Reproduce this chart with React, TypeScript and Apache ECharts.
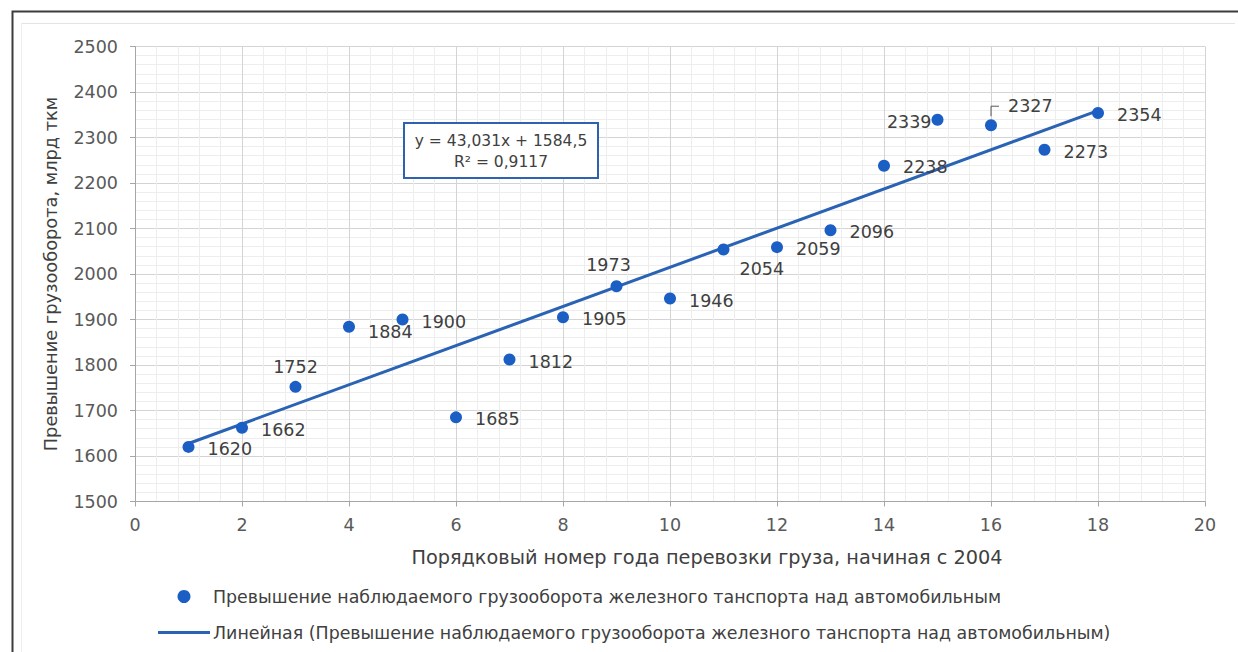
import React, { useEffect, useRef } from "react";
import * as echarts from "echarts";

const yearIndex = [1, 2, 3, 4, 5, 6, 7, 8, 9, 10, 11, 12, 13, 14, 15, 16, 17, 18];
const excessValues = [1620, 1662, 1752, 1884, 1900, 1685, 1812, 1905, 1973, 1946, 2054, 2059, 2096, 2238, 2339, 2327, 2273, 2354];
const trendX = [1, 18];
const trendY = [1627.5, 2359.1];
const scatterName = "Превышение наблюдаемого грузооборота железного танспорта над автомобильным";
const trendName = "Линейная (Превышение наблюдаемого грузооборота железного танспорта над автомобильным)";
const xTitle = "Порядковый номер года перевозки груза, начиная с 2004";
const yTitle = "Превышение грузооборота, млрд ткм";
const equationLines = ["y = 43,031x + 1584,5", "R² = 0,9117"];

const FONT = "'DejaVu Sans', sans-serif";
const TEXT = "#404040";
const TICK = "#595959";
const DOT = "#1b5ec4";
const LINE = "#2a63b4";

// label placement per point (style only)
const labelPlacement: Record<number, any> = {
  2: { position: "top", distance: 5, offset: [0, 0] },
  3: { offset: [0, 5] },
  8: { position: "top", distance: 6, offset: [-8, 0] },
  10: { offset: [-3, 20] },
  13: { offset: [0, 1] },
  14: { position: "left", distance: 0, offset: [0, 2] },
  15: { offset: [-2, -19] },
};

export default function App() {
  const ref = useRef<HTMLDivElement>(null);
  useEffect(() => {
    document.body.style.margin = "0";
    const chart = echarts.init(ref.current!, undefined, { renderer: "svg" });
    const scatterData = yearIndex.map((x, i) => {
      const p = labelPlacement[i] || {};
      return {
        value: [x, excessValues[i]],
        label: {
          position: p.position || "right",
          distance: p.distance !== undefined ? p.distance : 13,
          offset: p.offset || [0, 2],
        },
      };
    });
    const axisCommon = {
      axisLine: { show: true, lineStyle: { color: "#a6a6a6", width: 1 } },
      axisTick: { show: true, inside: false, length: 5, lineStyle: { color: "#a6a6a6" } },
      splitLine: { show: true, lineStyle: { color: "#d4d4d4", width: 1 } },
      minorTick: { show: false, splitNumber: 5 },
      minorSplitLine: { show: true, lineStyle: { color: "#ededed", width: 1 } },
      nameLocation: "middle" as const,
    };
    const tickLabel = { fontFamily: FONT, fontSize: 17.5, color: TICK, formatter: (v: number) => String(v) };
    chart.setOption({
      animation: false,
      backgroundColor: "#ffffff",
      textStyle: { fontFamily: FONT },
      grid: { left: 135, right: 33, top: 46.5, bottom: 150.5 },
      xAxis: {
        type: "value",
        min: 0,
        max: 20,
        interval: 2,
        name: xTitle,
        nameGap: 46,
        nameTextStyle: { fontFamily: FONT, fontSize: 19.3, color: TEXT, padding: [0, 0, 0, 74] },
        ...axisCommon,
        axisLabel: { ...tickLabel, margin: 14 },
      },
      yAxis: {
        type: "value",
        min: 1500,
        max: 2500,
        interval: 100,
        name: yTitle,
        nameGap: 76,
        nameTextStyle: { fontFamily: FONT, fontSize: 17.8, color: TEXT },
        ...axisCommon,
        axisLabel: { ...tickLabel, margin: 17 },
      },
      legend: {
        orient: "vertical",
        left: 153,
        top: 583,
        itemWidth: 52,
        itemHeight: 13,
        itemGap: 19,
        symbolKeepAspect: true,
        textStyle: { fontFamily: FONT, fontSize: 17.4, color: TEXT, padding: [0, 0, 0, -2] },
        data: [
          { name: scatterName, icon: "circle" },
          { name: trendName, icon: "path://M0 0H52V3H0Z" },
        ],
      },
      series: [
        {
          name: trendName,
          type: "line",
          data: trendX.map((x, i) => [x, trendY[i]]),
          symbol: "none",
          showSymbol: false,
          lineStyle: { color: LINE, width: 3 },
          itemStyle: { color: LINE },
          z: 3,
          silent: true,
        },
        {
          name: scatterName,
          type: "scatter",
          symbol: "circle",
          symbolSize: 12,
          itemStyle: { color: DOT, opacity: 1 },
          data: scatterData,
          label: { show: true, fontFamily: FONT, fontSize: 17.5, color: TEXT, formatter: (p: any) => String(p.value[1]) },
          z: 4,
        },
      ],
    });
    const lp = chart.convertToPixel({ gridIndex: 0 }, [yearIndex[15], excessValues[15]]) as number[];
    chart.setOption({
      graphic: [
        { type: "rect", left: 10, top: 9, shape: { x: 0, y: 0, width: 1400, height: 800 }, style: { fill: "none", stroke: "#3c3c3c", lineWidth: 2 }, silent: true },
        { type: "line", shape: { x1: 21, y1: 23.5, x2: 1235, y2: 23.5 }, style: { stroke: "#e3e3e3", lineWidth: 1 }, silent: true },
        { type: "line", shape: { x1: 21.5, y1: 23, x2: 21.5, y2: 652 }, style: { stroke: "#eeeeee", lineWidth: 1 }, silent: true },
        {
          type: "polyline",
          shape: { points: [[lp[0], lp[1] - 9], [lp[0], lp[1] - 19], [lp[0] + 8, lp[1] - 19]] },
          style: { stroke: "#595959", lineWidth: 1, fill: "none" },
          silent: true,
          z: 10,
        },
        {
          type: "group",
          left: 403,
          top: 122,
          children: [
            { type: "rect", shape: { x: 0, y: 0, width: 194, height: 55 }, style: { fill: "#ffffff", stroke: "#2e62ae", lineWidth: 2 } },
            { type: "text", style: { x: 97, y: 18, text: equationLines[0], align: "center", verticalAlign: "middle", fontFamily: FONT, fontSize: 15.5, fill: TEXT } },
            { type: "text", style: { x: 97, y: 39, text: equationLines[1], align: "center", verticalAlign: "middle", fontFamily: FONT, fontSize: 15.5, fill: TEXT } },
          ],
          z: 10,
        },
      ],
    });
    return () => chart.dispose();
  }, []);
  return <div ref={ref} style={{ position: "absolute", left: 0, top: 0, width: 1238, height: 652 }} />;
}
